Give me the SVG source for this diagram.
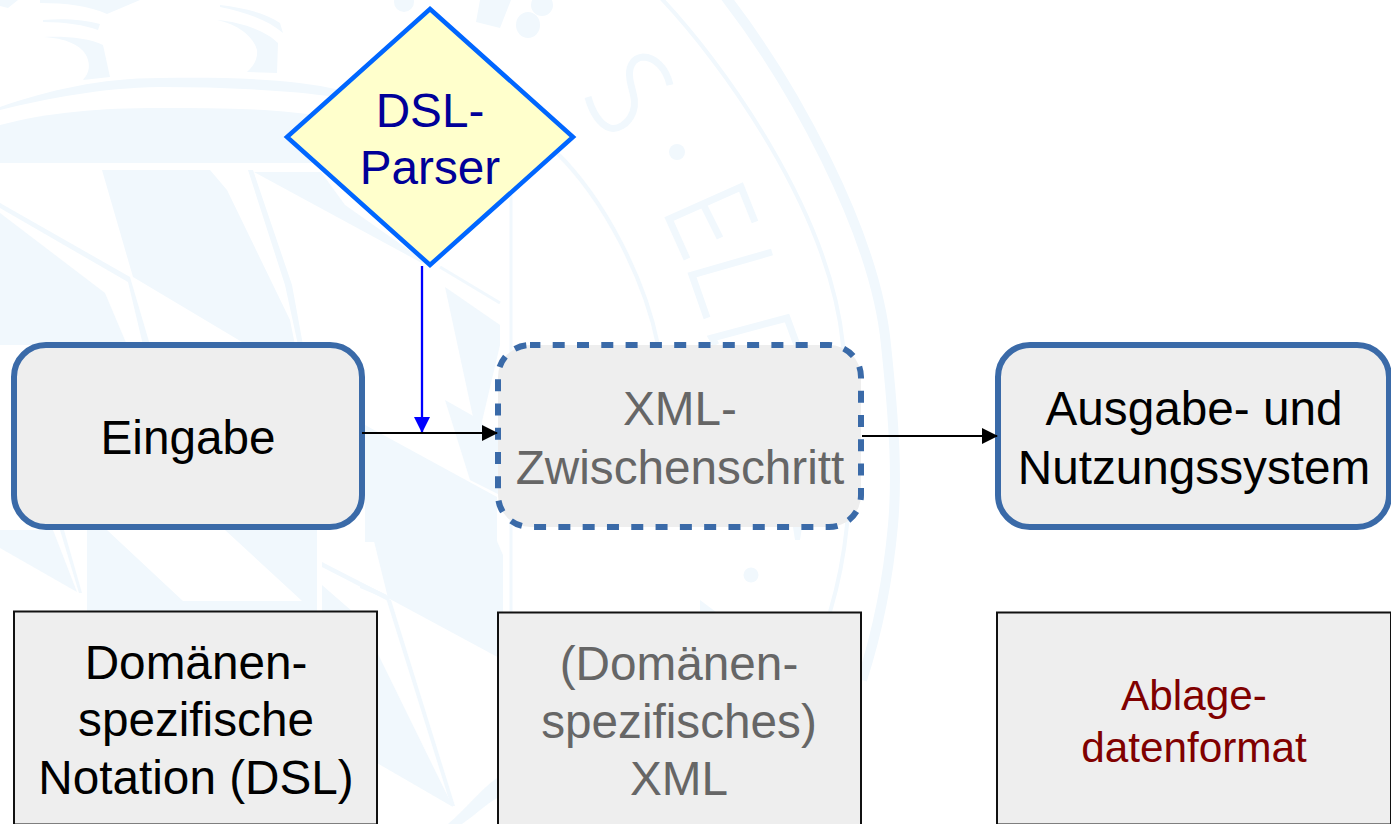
<svg xmlns="http://www.w3.org/2000/svg" width="1391" height="824" viewBox="0 0 1391 824">
<style>
text{font-family:"Liberation Sans",Arial,sans-serif;font-size:47.7px;text-anchor:middle}
.wm{fill:#f1f8fd;stroke:none}
.wl{fill:none;stroke:#f1f8fd}
.box{fill:#eeeeee;stroke:#3a6aa8;stroke-width:6}
.note{fill:#eeeeee;stroke:#111111;stroke-width:2}
.g{fill:#666666}
.k{fill:#000000}
.r{fill:#800000;font-size:42.3px}
.b{fill:#000099}
</style>
<defs>
<marker id="ak" markerUnits="userSpaceOnUse" markerWidth="16" markerHeight="16" refX="15" refY="8" orient="auto"><path d="M0 0L16 8L0 16Z" fill="#000"/></marker>
<marker id="ab" markerUnits="userSpaceOnUse" markerWidth="16" markerHeight="16" refX="15" refY="8" orient="auto"><path d="M0 0L16 8L0 16Z" fill="#0000ff"/></marker>
</defs>
<rect width="1391" height="824" fill="#fff"/>
<g id="watermark">
<path class="wm" d="M0 107C50 90 100 78 160 78C220 77 290 78 340 90L335 97C290 90 220 87 160 87C100 88 50 98 0 110Z"/>
<path class="wm" d="M0 125C50 112 100 108 160 108C220 108 280 108 330 118V163H0Z"/>
<path class="wm" d="M43 37C65 38 82 45 87 57C90 65 90 72 83 80L110 77L103 45C90 38 65 36 43 37Z"/>
<path class="wm" d="M217 20C240 25 254 38 257 50C258 60 253 66 247 72L277 73L278 43C265 30 240 22 217 20Z"/>
<path class="wm" d="M43 20C65 18 85 20 100 24L98 30C85 25 65 22 43 22Z"/>
<path class="wm" d="M40 0H140L107 14C90 6 65 3 40 3Z"/>
<path class="wm" d="M220 7C245 12 268 20 283 33L280 23C265 13 245 8 220 5Z"/>
<path class="wm" d="M0 0H18L8 8L0 6Z"/>
<path class="wm" d="M102 170H210L227 190L290 320L295 345H247L133 277Z"/>
<path class="wm" d="M0 213L105 293L127 345H0Z"/>
<path class="wm" d="M0 203L130 277L150 345H143L128 282L0 208Z"/>
<path class="wm" d="M248 170H253L292 285L303 345H298L285 285Z"/>
<path class="wm" d="M254 172H321L345 205L433 267L420 262Z"/>
<path class="wm" d="M445 287L500 325V345L480 430L473 417Z"/>
<path class="wl" stroke-width="3" d="M440 267L500 303"/>
<path class="wm" d="M365 425L497 497V542H365Z"/>
<path class="wm" d="M370 525H490L503 555V660L388 598Z"/>
<path class="wm" d="M475 417L500 440V495L470 480L445 400Z"/>
<path class="wm" d="M360 582L387 595L384 598L360 588Z"/>
<path class="wm" d="M386 598L391 600L455 806L451 806Z"/>
<path class="wm" d="M377 652L453 807L377 763Z"/>
<path class="wm" d="M497 778C480 790 465 810 448 824H462C475 815 485 805 497 798Z"/>
<path class="wm" d="M0 530H53L77 592L0 548Z"/>
<path class="wm" d="M60 530H64L82 593L79 593Z"/>
<path class="wm" d="M87 530H107L183 601H302L225 530H317V612H87Z"/>
<path class="wm" d="M322 562L390 597L388 601L322 567Z"/>
<path class="wm" d="M322 585L353 612H322Z"/>
<ellipse class="wm" cx="528" cy="25" rx="12" ry="13"/>
<circle class="wm" cx="542" cy="5" r="11"/>
<circle class="wm" cx="404" cy="2" r="10"/>
<path class="wm" d="M480 0H511L500 28L476 22Z"/>
<circle class="wm" cx="677" cy="152" r="8"/>
<circle class="wm" cx="751" cy="575" r="7.5"/>
<path class="wm" d="M700 600L716 612H700Z"/>
<path class="wm" d="M793 527H802L800 540H795Z"/>
<path class="wl" stroke-width="7" d="M670 85C666 68 655 57 643 57C632 58 628 68 630 80C632 92 637 100 633 112C628 125 617 130 610 128C600 125 592 112 588 97"/>
<path class="wl" stroke-width="7" d="M755 222L741 187L669 219L687 259M704 206L720 238"/>
<path class="wl" stroke-width="7" d="M772 252L692 275L707 318"/>
<path class="wl" stroke-width="7" d="M797 345L787 318L712 338L716 345"/>
<path class="wl" stroke-width="10" d="M724 -5C790 80 875 230 886 345C895 430 897 480 893 525C888 580 878 630 862 680"/>
<path class="wl" stroke-width="4" d="M660 -3C720 60 830 210 843 345C850 420 852 470 847 525C844 555 838 585 830 612"/>
<path class="wl" stroke-width="4" d="M556 152C605 200 645 280 658 345"/>
<path class="wl" stroke-width="3" d="M511 195V612"/>
</g>
<g id="dsl-parser">
<path d="M430 9L573 137L430 265L287 137Z" fill="#ffffcc" stroke="#0066ff" stroke-width="4.5"/>
<text class="b" x="430" y="127">DSL-</text>
<text class="b" x="430" y="184">Parser</text>
</g>
<g id="eingabe">
<rect class="box" x="14" y="345" width="348" height="182" rx="32"/>
<text class="k" x="188" y="454">Eingabe</text>
</g>
<g id="xml-zwischenschritt">
<rect class="box" x="498" y="345" width="363" height="182" rx="32" stroke-dasharray="12 12.3" stroke-dashoffset="1.6"/>
<text class="g" x="680" y="425">XML-</text>
<text class="g" x="680" y="484">Zwischenschritt</text>
</g>
<g id="ausgabe">
<rect class="box" x="998" y="345" width="391" height="182" rx="32"/>
<text class="k" x="1194" y="425">Ausgabe- und</text>
<text class="k" x="1194" y="484">Nutzungssystem</text>
</g>
<g id="note-dsl">
<rect class="note" x="14" y="611.5" width="363" height="213"/>
<text class="k" x="196" y="679">Domänen-</text>
<text class="k" x="196" y="736">spezifische</text>
<text class="k" x="196" y="794">Notation (DSL)</text>
</g>
<g id="note-xml">
<rect class="note" x="498" y="612.5" width="363" height="214"/>
<text class="g" x="679" y="680">(Domänen-</text>
<text class="g" x="679" y="738">spezifisches)</text>
<text class="g" x="679" y="795">XML</text>
</g>
<g id="note-ablage">
<rect class="note" x="997" y="612.5" width="394" height="212"/>
<text class="r" x="1194" y="710">Ablage-</text>
<text class="r" x="1194" y="762">datenformat</text>
</g>
<g id="connectors" fill="none">
<path d="M422 266V432" stroke="#0000ff" stroke-width="2.3" marker-end="url(#ab)"/>
<path d="M362 433H497" stroke="#000" stroke-width="2.2" marker-end="url(#ak)"/>
<path d="M862 436H997" stroke="#000" stroke-width="2.2" marker-end="url(#ak)"/>
</g>
</svg>
